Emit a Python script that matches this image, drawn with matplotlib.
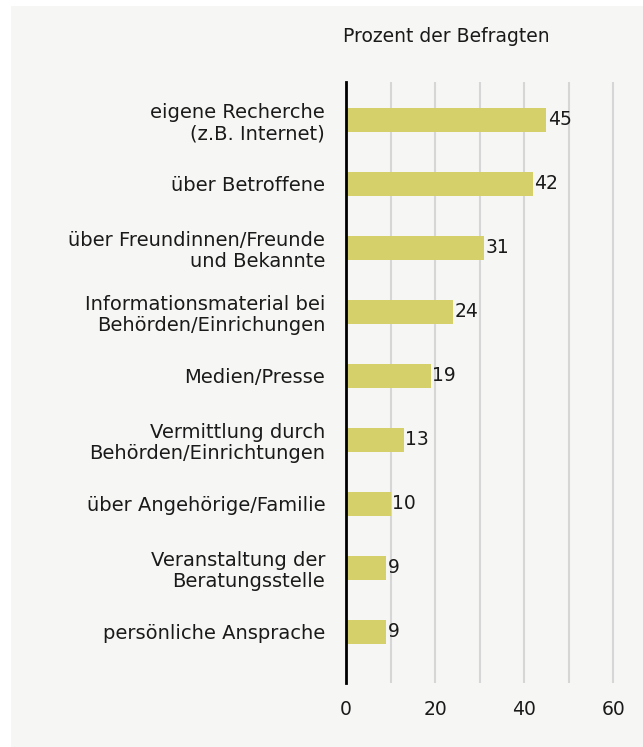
import numpy as np
import matplotlib.pyplot as plt
from matplotlib.patches import Rectangle

plt.rcParams['font.family'] = ['DejaVu Sans']

categories = ["eigene Recherche\n(z.B. Internet)",
              "über Betroffene",
              "über Freundinnen/Freunde\nund Bekannte",
              "Informationsmaterial bei\nBehörden/Einrichungen",
              "Medien/Presse",
              "Vermittlung durch\nBehörden/Einrichtungen",
              "über Angehörige/Familie",
              "Veranstaltung der\nBeratungsstelle",
              "persönliche Ansprache"]
values = [45, 42, 31, 24, 19, 13, 10, 9, 9]
xticks = [0, 20, 40, 60]

bg = '#f6f6f4'
bar_color = '#d6d06a'
txt = '#1a1a1a'

fig = plt.figure(figsize=(6.43, 7.47), dpi=100)
fig.patch.set_facecolor('white')
fig.add_artist(Rectangle((11 / 643, -0.01), 1, 1.01 - 6 / 747, transform=fig.transFigure,
                         facecolor=bg, edgecolor='none', zorder=-10))

ax = fig.add_axes([346 / 643, 1 - 683 / 747, 297 / 643, 601 / 747])
ax.patch.set_alpha(0)

y = np.arange(len(categories))
ax.barh(y, values, height=0.375, color=bar_color, zorder=2)
for yi, v in zip(y, values):
    ax.text(v + 0.3, yi, str(v), va='center', ha='left', fontsize=13.5, color=txt)

ax.set_xlim(0, 66.7)
ax.set_ylim(8.8, -0.59)
for gx in range(10, 70, 10):
    ax.axvline(gx, color='#d6d6d6', lw=1.5, zorder=1)

ax.set_yticks(y)
ax.set_yticklabels(categories, fontsize=14, color=txt, linespacing=1.15)
ax.set_xticks(xticks)
ax.set_xticklabels([str(t) for t in xticks], fontsize=13.5, color=txt)
ax.tick_params(length=0, pad=15, axis='y')
ax.tick_params(length=0, pad=12, axis='x')

for s in ['top', 'right', 'bottom']:
    ax.spines[s].set_visible(False)
ax.spines['left'].set_linewidth(2)
ax.spines['left'].set_color('black')
ax.spines['left'].set_zorder(3)

fig.text(343 / 643, 1 - 37 / 747, 'Prozent der Befragten', fontsize=13.5,
         ha='left', va='center', color=txt)

plt.savefig('out.png', dpi=100, facecolor=fig.get_facecolor())
